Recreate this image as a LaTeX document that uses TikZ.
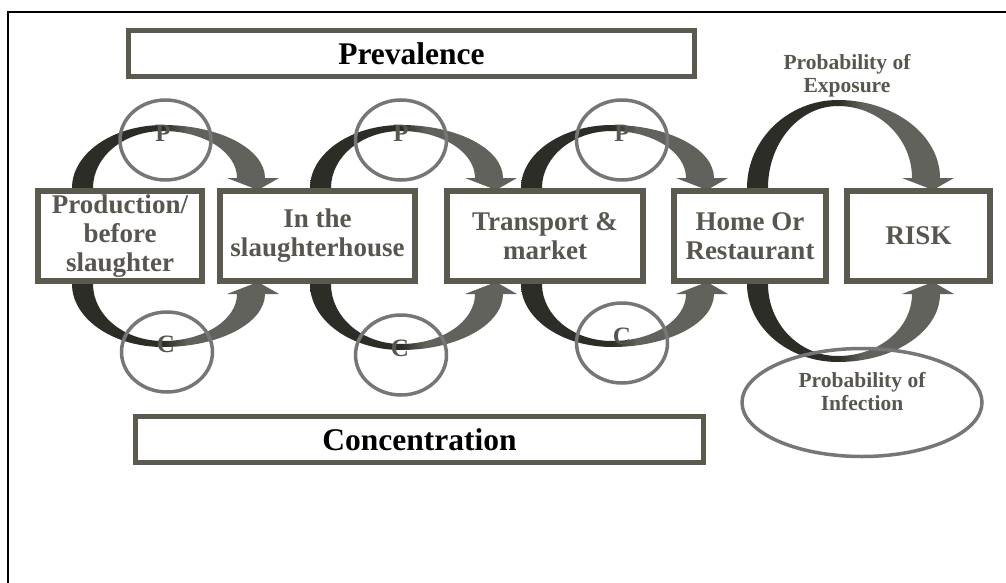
\documentclass[tikz,border=0pt]{standalone}
\usepackage{fontspec}
\setmainfont{Liberation Serif}
\usetikzlibrary{shapes.geometric}
\definecolor{boxcol}{RGB}{92,90,78}
\definecolor{txtcol}{RGB}{88,86,78}
\definecolor{ringcol}{RGB}{118,118,118}
\definecolor{ardark}{RGB}{45,45,40}
\definecolor{argray}{RGB}{98,98,92}
\pgfdeclarehorizontalshading{arrowshade}{100bp}{color(0bp)=(ardark); color(47bp)=(ardark); color(53bp)=(argray); color(100bp)=(argray)}
% curved arrow: #1 centre x, #2 box edge y, #3 = 1 (up) or -1 (down), #4 height
\newcommand{\carrow}[4]{%
  \shade[shading=arrowshade]
  ({#1-91},{#2}) .. controls ({#1-91},{#2-(#3)*0.55*(#4)}) and ({#1-50},{#2-(#3)*(#4)}) .. ({#1},{#2-(#3)*(#4)})
  .. controls ({#1+56},{#2-(#3)*(#4)}) and ({#1+102},{#2-(#3)*(10+0.55*(#4-10))}) .. ({#1+102},{#2-(#3)*10})
  -- ({#1+116},{#2-(#3)*10}) -- ({#1+95},{#2+(#3)*2}) -- ({#1+64},{#2-(#3)*10}) -- ({#1+74},{#2-(#3)*10})
  .. controls ({#1+74},{#2-(#3)*(10+0.55*(#4-16))}) and ({#1+41},{#2-(#3)*(#4-6)}) .. ({#1},{#2-(#3)*(#4-6)})
  .. controls ({#1-39},{#2-(#3)*(#4-6)}) and ({#1-70},{#2-(#3)*0.55*(#4-6)}) .. ({#1-70},{#2}) -- cycle;}
\tikzset{
  stage/.style={draw=boxcol, line width=6pt, fill=white, text=txtcol, align=center, inner sep=0pt,
    minimum height=90pt, font=\bfseries\fontsize{27}{29}\selectfont},
  banner/.style={draw=boxcol, line width=5pt, fill=white, text=black, inner sep=0pt,
    minimum height=46pt, minimum width=566pt, font=\bfseries\fontsize{31.5}{34}\selectfont},
  ring/.style={draw=ringcol, line width=3.5pt, ellipse, inner sep=0pt, minimum width=91pt, minimum height=80pt},
  letter/.style={text=txtcol, inner sep=0pt, font=\bfseries\fontsize{25}{25}\selectfont},
  probtxt/.style={text=txtcol, align=center, inner sep=0pt, font=\bfseries\fontsize{21.5}{23}\selectfont}
}
\begin{document}
\begin{tikzpicture}[x=1pt,y=-1pt]
\useasboundingbox (0,0) rectangle (1006,583);
\fill[white] (0,0) rectangle (1006,583);
% frame
\coordinate (fbl) at (8,583);
\coordinate (ftl) at (8,12);
\coordinate (ftr) at (1006,12);
\draw[line width=2pt] (fbl) -- (ftl) -- (ftr);
% curved arrows
\carrow{163}{188}{1}{63}
\carrow{163}{284}{-1}{63}
\carrow{401}{188}{1}{63}
\carrow{401}{284}{-1}{66}
\carrow{612}{188}{1}{63}
\carrow{612}{284}{-1}{63}
\carrow{838}{188}{1}{88}
\carrow{838}{284}{-1}{78}
% banners
\node[banner] (prev) at (411.5,53.5) {Prevalence};
\node[banner, minimum width=568pt] (conc) at (419.5,439.5) {Concentration};
% stages
\node[stage, minimum width=164pt] (s1) at (120,236) {Production/\\before\\slaughter};
\node[stage, minimum width=195pt] (s2) at (317.5,236) {In the\\slaughterhouse};
\node[stage, minimum width=196pt] (s3) at (545,236) {Transport \&\\market};
\node[stage, minimum width=152pt] (s4) at (750,236) {Home Or\\Restaurant};
\node[stage, minimum width=143pt] (s5) at (918.5,236) {RISK};
% rings
\node[ring] (p1) at (165.5,140) {};
\node[ring] (p2) at (401,140) {};
\node[ring] (p3) at (622,140) {};
\node[ring] (c1) at (167,352) {};
\node[ring] (c2) at (401,355) {};
\node[ring] (c3) at (622,343) {};
\node[letter] (lp1) at (163,133) {P};
\node[letter] (lp2) at (401,133) {P};
\node[letter] (lp3) at (622,133) {P};
\node[letter] (lc1) at (166,344) {C};
\node[letter] (lc2) at (400,348) {C};
\node[letter] (lc3) at (622,336) {C};
% probabilities
\node[probtxt] (expo) at (847,76) {Probability of\\Exposure};
\node[draw=ringcol, line width=3.5pt, ellipse, minimum width=240pt, minimum height=108pt, inner sep=0pt] (inf) at (862,402.5) {};
\node[probtxt] (inftxt) at (862,392) {Probability of\\Infection};
\end{tikzpicture}
\end{document}
